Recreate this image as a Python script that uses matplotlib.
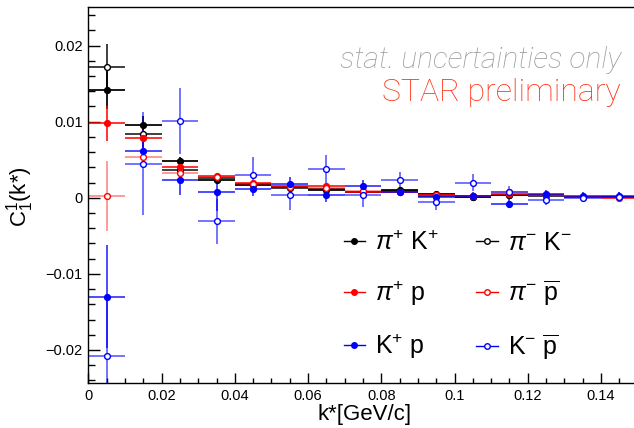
import numpy as np
import matplotlib
matplotlib.use('Agg')
import matplotlib.pyplot as plt
from matplotlib.lines import Line2D
from matplotlib.ticker import MultipleLocator

plt.rcParams['font.family'] = ['Liberation Sans', 'DejaVu Sans']
plt.rcParams['mathtext.fontset'] = 'custom'
plt.rcParams['mathtext.rm'] = 'Liberation Sans'
plt.rcParams['mathtext.it'] = 'Liberation Sans:italic'
plt.rcParams['mathtext.bf'] = 'Liberation Sans:bold'

# k* bin centres, bins are 0.01 wide
kstar = [0.005, 0.015, 0.025, 0.035, 0.045, 0.055, 0.065, 0.075,
         0.085, 0.095, 0.105, 0.115, 0.125, 0.135, 0.145]
half_bin = 0.005

pipKp = [0.0141, 0.0095, 0.0048, 0.0024, 0.0017, 0.0014, 0.0010, 0.0008,
         0.0010, 0.0005, 0.0001, 0.0003, 0.0003, 0.0001, 0.0001]
pipKp_err = [0.0025, 0.0012, 0.0006, 0.0004, 0.0003, 0.0003, 0.0003, 0.0002,
             0.0002, 0.0002, 0.0002, 0.0002, 0.0002, 0.0002, 0.0002]

pimKm = [0.0172, 0.0084, 0.0037, 0.0026, 0.0018, 0.0013, 0.0011, 0.0008,
         0.0009, 0.0002, 0.0001, 0.0004, 0.0002, 0.0001, 0.0001]
pimKm_err = [0.0030, 0.0013, 0.0006, 0.0004, 0.0003, 0.0003, 0.0003, 0.0002,
             0.0002, 0.0002, 0.0002, 0.0002, 0.0002, 0.0002, 0.0002]

pipp = [0.0098, 0.0078, 0.0040, 0.0028, 0.0019, 0.0015, 0.0015, 0.0008,
        0.0008, 0.0003, 0.0002, 0.0005, 0.0003, 0.0001, 0.0000]
pipp_err = [0.0023, 0.0011, 0.0006, 0.0004, 0.0003, 0.0003, 0.0003, 0.0002,
            0.0002, 0.0002, 0.0002, 0.0002, 0.0002, 0.0002, 0.0002]

pimpbar = [0.0002, 0.0054, 0.0032, 0.0027, 0.0018, 0.0014, 0.0013, 0.0009,
           0.0007, 0.0003, 0.0002, 0.0008, 0.0003, 0.0001, 0.0001]
pimpbar_err = [0.0046, 0.0014, 0.0007, 0.0005, 0.0004, 0.0003, 0.0003, 0.0003,
               0.0003, 0.0002, 0.0002, 0.0002, 0.0002, 0.0002, 0.0002]

Kpp = [-0.0130, 0.0062, 0.0023, 0.0007, 0.0011, 0.0018, 0.0003, 0.0015,
       0.0008, 0.0001, 0.0002, -0.0008, 0.0005, 0.0002, 0.0002]
Kpp_err = [0.0068, 0.0020, 0.0019, 0.0025, 0.0009, 0.0009, 0.0008, 0.0008,
           0.0006, 0.0006, 0.0006, 0.0006, 0.0005, 0.0005, 0.0005]

Kmpbar = [-0.0208, 0.0045, 0.0101, -0.0031, 0.0030, 0.0003, 0.0038, 0.0003,
          0.0023, -0.0006, 0.0020, 0.0008, -0.0003, 0.0000, 0.0001]
Kmpbar_err = [0.0080, 0.0068, 0.0043, 0.0030, 0.0023, 0.0019, 0.0018, 0.0015,
              0.0011, 0.0010, 0.0011, 0.0008, 0.0007, 0.0006, 0.0006]

labels = [r'$\pi^{+}$ K$^{+}$', r'$\pi^{-}$ K$^{-}$',
          r'$\pi^{+}$ p', r'$\pi^{-}$ $\overline{\mathrm{p}}$',
          r'K$^{+}$ p', r'K$^{-}$ $\overline{\mathrm{p}}$']

series = [
    (pipKp, pipKp_err, 'black', True, 0.9),
    (pimKm, pimKm_err, 'black', False, 0.75),
    (pipp, pipp_err, 'red', True, 0.8),
    (pimpbar, pimpbar_err, 'red', False, 0.4),
    (Kpp, Kpp_err, 'blue', True, 0.7),
    (Kmpbar, Kmpbar_err, 'blue', False, 0.55),
]

fig = plt.figure(figsize=(6.34, 4.28), dpi=100)
ax = fig.add_axes([0.1394, 0.104, 0.8606, 0.8785])

handles = []
for i, (vals, errs, col, filled, alpha) in enumerate(series):
    ax.errorbar(kstar, vals, xerr=half_bin, yerr=errs, fmt='none',
                ecolor=col, alpha=alpha, elinewidth=1.4, capsize=0,
                zorder=2 + i * 0.1)
    ax.plot(kstar, vals, 'o', ms=4.2, color=col,
            mfc=col if filled else 'white', mec=col, mew=1.0,
            zorder=4 + i * 0.1)
    handles.append(Line2D([], [], color=col, alpha=1.0, lw=1.0,
                          marker='o', ms=4, mfc=col if filled else 'white',
                          mec=col))

ax.set_xlim(0, 0.149)
ax.set_ylim(-0.0244, 0.025)

ax.xaxis.set_major_locator(MultipleLocator(0.02))
ax.xaxis.set_minor_locator(MultipleLocator(0.005))
ax.yaxis.set_major_locator(MultipleLocator(0.01))
ax.yaxis.set_minor_locator(MultipleLocator(0.002))
ax.xaxis.set_major_formatter(plt.FuncFormatter(lambda v, p: '%g' % round(v, 3)))
ax.yaxis.set_major_formatter(plt.FuncFormatter(
    lambda v, p: ('%g' % round(v, 3)).replace('-', '\u2212')))

ax.tick_params(axis='x', which='major', direction='in', length=7, width=1,
               labelsize=10.5, pad=4)
ax.tick_params(axis='x', which='minor', direction='in', length=3.6, width=1)
ax.tick_params(axis='y', which='major', direction='in', length=8.5, width=1,
               labelsize=10.5, pad=4)
ax.tick_params(axis='y', which='minor', direction='in', length=5, width=1)

ax.spines['right'].set_visible(False)
for s in ['left', 'bottom', 'top']:
    ax.spines[s].set_linewidth(1.0)

fig.text(20 / 634, 1 - 197 / 428, r'C$^{1}_{1}$(k*)', rotation=90,
         ha='center', va='center', fontsize=16)
fig.text(365 / 634, 1 - 420 / 428, 'k*[GeV/c]', ha='center',
         va='baseline', fontsize=16)

fig.text(621 / 634, 1 - 68 / 428, 'stat. uncertainties only', ha='right',
         va='baseline', fontsize=21.5, style='italic', color='#9a9a9a',
         family=['Roboto', 'Liberation Sans'], weight='light')
fig.text(621 / 634, 1 - 101 / 428, 'STAR preliminary', ha='right',
         va='baseline', fontsize=23, color='#ff3318',
         family=['Roboto', 'Liberation Sans'], weight='light')

order = [0, 2, 4, 1, 3, 5]
ax.legend([handles[i] for i in order], [labels[i] for i in order],
          ncol=2, frameon=False, fontsize=18, loc='upper left',
          bbox_to_anchor=(331 / 634, 1 - 218 / 428),
          bbox_transform=fig.transFigure,
          handlelength=0.85, handletextpad=0.4, labelspacing=0.95,
          columnspacing=1.5, borderpad=0)

fig.savefig('out.png', dpi=100)
